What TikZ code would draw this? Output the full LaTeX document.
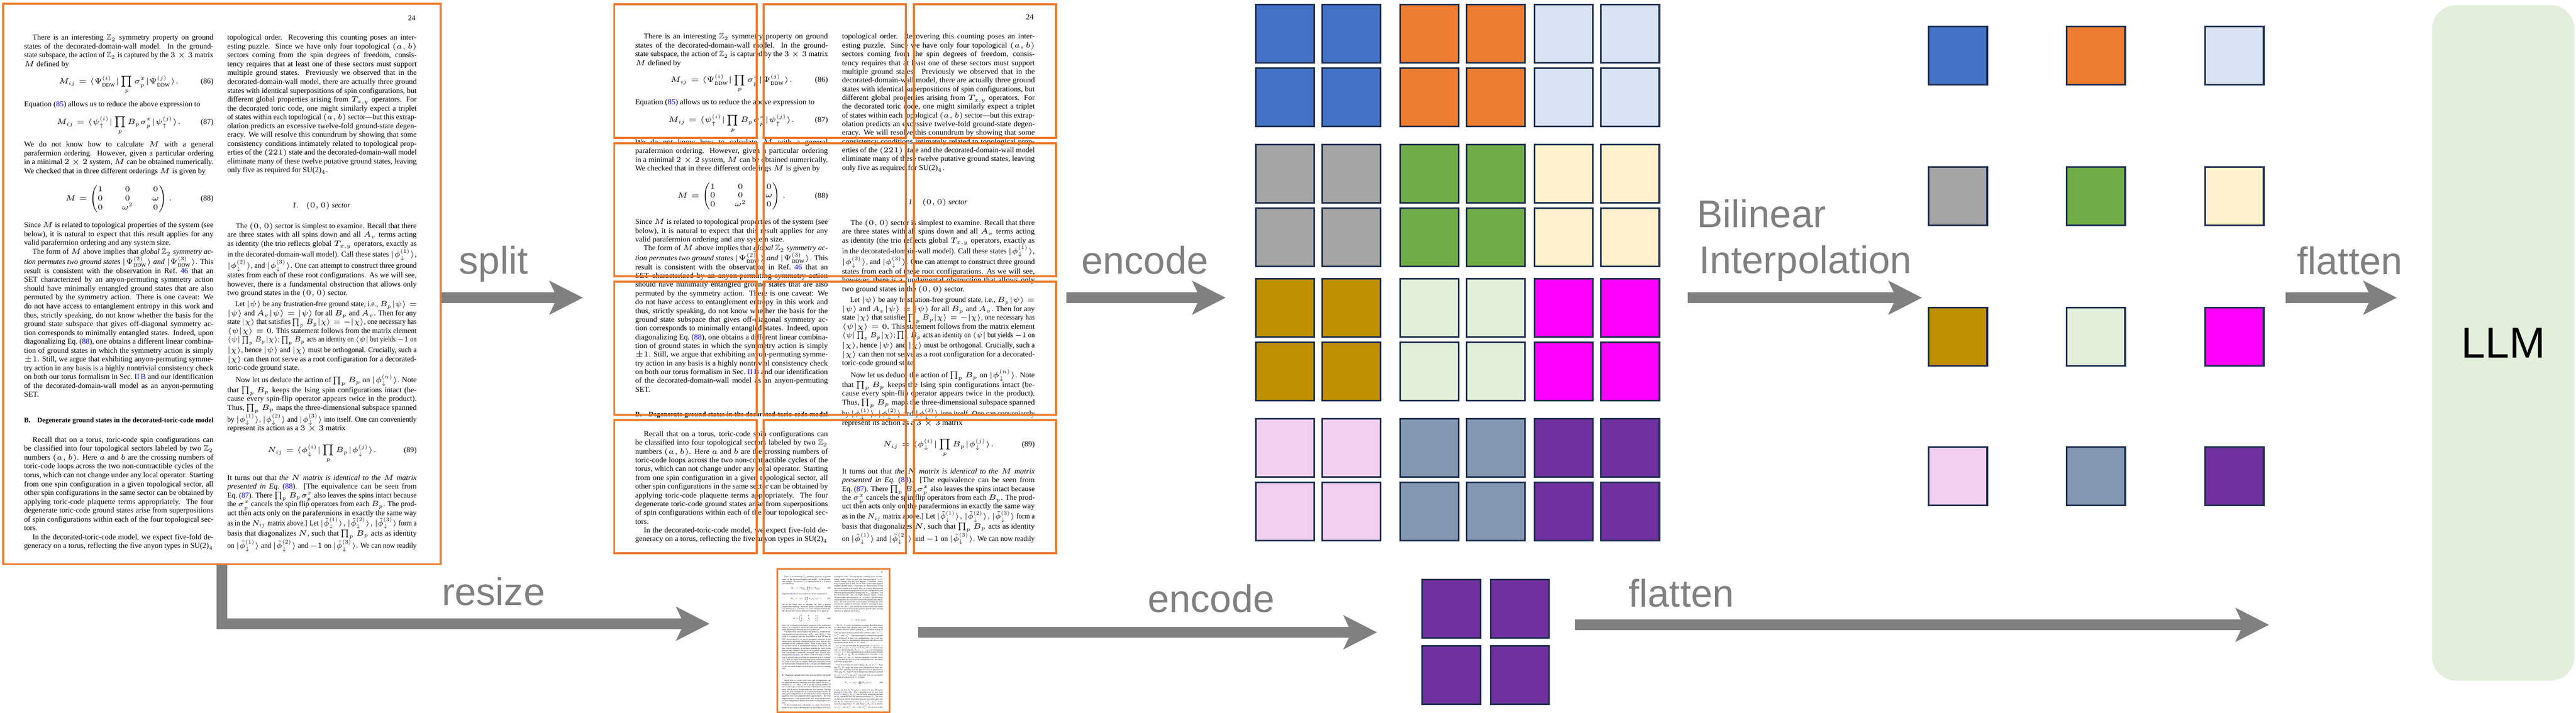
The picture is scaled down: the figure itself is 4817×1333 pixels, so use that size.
\RequirePackage{fix-cm}
\documentclass[tikz,border=0pt]{standalone}
\usepackage{amsmath,amssymb}
\usepackage{fontspec}
\setmainfont{Liberation Serif}
\setsansfont{Liberation Sans}
\usepackage{tikz}
\usetikzlibrary{arrows.meta}

\definecolor{pageorange}{RGB}{237,125,49}
\definecolor{arrowgray}{RGB}{128,128,128}
\definecolor{tileedge}{RGB}{31,48,80}
\definecolor{tokblue}{RGB}{68,114,196}
\definecolor{tokorange}{RGB}{237,125,49}
\definecolor{toklightblue}{RGB}{218,227,243}
\definecolor{tokgray}{RGB}{165,165,165}
\definecolor{tokgreen}{RGB}{112,173,71}
\definecolor{tokyellow}{RGB}{255,242,204}
\definecolor{tokgold}{RGB}{191,144,0}
\definecolor{toklightgreen}{RGB}{226,240,217}
\definecolor{tokmagenta}{RGB}{255,0,255}
\definecolor{tokpink}{RGB}{242,207,238}
\definecolor{tokslate}{RGB}{132,151,176}
\definecolor{tokpurple}{RGB}{112,48,160}
\definecolor{llmgreen}{RGB}{226,239,218}

\newcommand{\refnum}[1]{\textcolor{blue}{#1}}
\newcommand{\parind}{\hspace*{4.5pt}}
\newcommand{\pagefont}{\fontsize{4.05pt}{4.71pt}\selectfont\spaceskip=1.01pt plus 1.2pt minus 0.45pt\relax}
\newsavebox{\pglinebox}
\newcommand{\fitline}[1]{%
    \sbox{\pglinebox}{#1}%
    \ifdim\wd\pglinebox>3.538cm
        \resizebox{3.538cm}{\height}{\usebox{\pglinebox}}%
    \else
        \makebox[3.538cm][s]{#1}%
    \fi}

\newcommand{\pageblock}[4]{%
    \foreach \txt [count=\k from 0] in {#4}
        \node [pageline] (#1-\k) at (#2,#3+16.55*\k) {\fitline{\txt}};
}

\newcommand{\drawpage}[1]{%
    \node [pageline, anchor=base east] (#1-num) at (773.8,33) {24};

    \pageblock{#1-la}{40.4}{69.7}{%
        {\parind There is an interesting $\mathbb{Z}_2$ symmetry property on ground},
        {states of the decorated-domain-wall model. In the ground-},
        {state subspace, the action of $\mathbb{Z}_2$ is captured by the $3\times 3$ matrix},
        {$M$ defined by\hfill}}
    \node [pageline] (#1-eq86) at (40.4,151.3) {\rlap{\makebox[3.538cm]{$\displaystyle M_{ij}=\langle\Psi^{(i)}_{\mathrm{DDW}}|\prod_p\sigma^x_p|\Psi^{(j)}_{\mathrm{DDW}}\rangle.$}}\makebox[3.538cm][r]{(86)}};
    \pageblock{#1-lb}{40.4}{194}{%
        {Equation (\refnum{85}) allows us to reduce the above expression to\hfill}}
    \node [pageline] (#1-eq87) at (40.4,227.3) {\rlap{\makebox[3.538cm]{$\displaystyle M_{ij}=\langle\psi^{(i)}_{\uparrow}|\prod_p B_p\sigma^x_p|\psi^{(j)}_{\uparrow}\rangle.$}}\makebox[3.538cm][r]{(87)}};
    \pageblock{#1-lc}{40.4}{269.7}{%
        {We do not know how to calculate $M$ with a general},
        {parafermion ordering. However, given a particular ordering},
        {in a minimal $2\times 2$ system, $M$ can be obtained numerically.},
        {We checked that in three different orderings $M$ is given by\hfill}}
    \node [pageline] (#1-eq88) at (40.4,370.7) {\rlap{\makebox[3.538cm]{$\displaystyle M=\begin{pmatrix}1&0&0\\0&0&\omega\\0&\omega^2&0\end{pmatrix}.$}}\makebox[3.538cm][r]{(88)}};
    \pageblock{#1-ld}{40.4}{420.7}{%
        {Since $M$ is related to topological properties of the system (see},
        {below), it is natural to expect that this result applies for any},
        {valid parafermion ordering and any system size.\hfill},
        {\parind The form of $M$ above implies that \emph{global $\mathbb{Z}_2$ symmetry ac-}}}
    \pageblock{#1-le}{40.4}{489.7}{%
        {\emph{tion permutes two ground states $|\Psi^{(2)}_{\mathrm{DDW}}\rangle$ and $|\Psi^{(3)}_{\mathrm{DDW}}\rangle$}. This},
        {result is consistent with the observation in Ref.~\refnum{46} that an},
        {SET characterized by an anyon-permuting symmetry action},
        {should have minimally entangled ground states that are also},
        {permuted by the symmetry action. There is one caveat: We},
        {do not have access to entanglement entropy in this work and},
        {thus, strictly speaking, do not know whether the basis for the},
        {ground state subspace that gives off-diagonal symmetry ac-},
        {tion corresponds to minimally entangled states. Indeed, upon},
        {diagonalizing Eq.~(\refnum{88}), one obtains a different linear combina-},
        {tion of ground states in which the symmetry action is simply},
        {$\pm1$. Still, we argue that exhibiting anyon-permuting symme-},
        {try action in any basis is a highly nontrivial consistency check},
        {on both our torus formalism in Sec.~\refnum{II\,B} and our identification},
        {of the decorated-domain-wall model as an anyon-permuting},
        {SET.\hfill}}
    \node [pageline] (#1-headB) at (40.4,785.3) {\fitline{\bfseries\fontsize{3.7pt}{4.71pt}\selectfont B.\quad Degenerate ground states in the decorated-toric-code model}};
    \pageblock{#1-lf}{40.4}{822.3}{%
        {\parind Recall that on a torus, toric-code spin configurations can},
        {be classified into four topological sectors labeled by two $\mathbb{Z}_2$},
        {numbers $(a,b)$. Here $a$ and $b$ are the crossing numbers of},
        {toric-code loops across the two non-contractible cycles of the},
        {torus, which can not change under any local operator. Starting},
        {from one spin configuration in a given topological sector, all},
        {other spin configurations in the same sector can be obtained by},
        {applying toric-code plaquette terms appropriately. The four},
        {degenerate toric-code ground states arise from superpositions},
        {of spin configurations within each of the four topological sec-},
        {tors.\hfill},
        {\parind In the decorated-toric-code model, we expect five-fold de-},
        {generacy on a torus, reflecting the five anyon types in SU(2)$_4$}}

    \pageblock{#1-ra}{420.4}{69.7}{%
        {topological order. Recovering this counting poses an inter-},
        {esting puzzle. Since we have only four topological $(a,b)$},
        {sectors coming from the spin degrees of freedom, consis-},
        {tency requires that at least one of these sectors must support},
        {multiple ground states. Previously we observed that in the},
        {decorated-domain-wall model, there are actually three ground},
        {states with identical superpositions of spin configurations, but},
        {different global properties arising from $T_{x,y}$ operators. For},
        {the decorated toric code, one might similarly expect a triplet},
        {of states within each topological $(a,b)$ sector---but this extrap-},
        {olation predicts an excessive twelve-fold ground-state degen-},
        {eracy. We will resolve this conundrum by showing that some},
        {consistency conditions intimately related to topological prop-},
        {erties of the $(221)$ state and the decorated-domain-wall model},
        {eliminate many of these twelve putative ground states, leaving},
        {only five as required for SU(2)$_4$.\hfill}}
    \node [pageline, anchor=base] (#1-head1) at (597.3,383) {\itshape 1.\quad $(0,0)$ sector};
    \pageblock{#1-rb}{420.4}{422.3}{%
        {\parind The $(0,0)$ sector is simplest to examine. Recall that there},
        {are three states with all spins down and all $A_v$ terms acting},
        {as identity (the trio reflects global $T_{x,y}$ operators, exactly as}}
    \pageblock{#1-rc}{420.4}{475.7}{%
        {in the decorated-domain-wall model). Call these states $|\phi^{(1)}_{\downarrow}\rangle$,}}
    \pageblock{#1-rd}{420.4}{496.3}{%
        {$|\phi^{(2)}_{\downarrow}\rangle$, and $|\phi^{(3)}_{\downarrow}\rangle$. One can attempt to construct three ground}}
    \pageblock{#1-re}{420.4}{514.7}{%
        {states from each of these root configurations. As we will see,},
        {however, there is a fundamental obstruction that allows only},
        {two ground states in the $(0,0)$ sector.\hfill}}
    \pageblock{#1-rf}{420.4}{568.7}{%
        {\parind Let $|\psi\rangle$ be any frustration-free ground state, i.e., $B_p|\psi\rangle=$},
        {$|\psi\rangle$ and $A_v|\psi\rangle=|\psi\rangle$ for all $B_p$ and $A_v$. Then for any},
        {state $|\chi\rangle$ that satisfies $\prod_p B_p|\chi\rangle=-|\chi\rangle$, one necessary has},
        {$\langle\psi|\chi\rangle=0$. This statement follows from the matrix element},
        {$\langle\psi|\prod_p B_p|\chi\rangle$; $\prod_p B_p$ acts an identity on $\langle\psi|$ but yields $-1$ on}}
    \pageblock{#1-rg}{420.4}{654.7}{%
        {$|\chi\rangle$, hence $|\psi\rangle$ and $|\chi\rangle$ must be orthogonal. Crucially, such a},
        {$|\chi\rangle$ can then not serve as a root configuration for a decorated-},
        {toric-code ground state.\hfill}}
    \pageblock{#1-rh}{420.4}{710.7}{%
        {\parind Now let us deduce the action of $\prod_p B_p$ on $|\phi^{(n)}_{\downarrow}\rangle$. Note}}
    \pageblock{#1-ri}{420.4}{729}{%
        {that $\prod_p B_p$ keeps the Ising spin configurations intact (be-},
        {cause every spin-flip operator appears twice in the product).},
        {Thus, $\prod_p B_p$ maps the three-dimensional subspace spanned}}
    \pageblock{#1-rj}{420.4}{784}{%
        {by $|\phi^{(1)}_{\downarrow}\rangle$, $|\phi^{(2)}_{\downarrow}\rangle$ and $|\phi^{(3)}_{\downarrow}\rangle$ into itself. One can conveniently},
        {represent its action as a $3\times 3$ matrix\hfill}}
    \node [pageline] (#1-eq89) at (420.4,841.3) {\rlap{\makebox[3.538cm]{$\displaystyle N_{ij}=\langle\phi^{(i)}_{\downarrow}|\prod_p B_p|\phi^{(j)}_{\downarrow}\rangle.$}}\makebox[3.538cm][r]{(89)}};
    \pageblock{#1-rk}{420.4}{893}{%
        {It turns out that \emph{the $N$ matrix is identical to the $M$ matrix}},
        {\emph{presented in Eq.}~(\refnum{88}). [The equivalence can be seen from},
        {Eq.~(\refnum{87}). There $\prod_p B_p\sigma^x_p$ also leaves the spins intact because},
        {the $\sigma^x_p$ cancels the spin flip operators from each $B_p$. The prod-},
        {uct then acts only on the parafermions in exactly the same way}}
    \pageblock{#1-rl}{420.4}{978}{%
        {as in the $N_{ij}$ matrix above.] Let $|\tilde\phi^{(1)}_{\downarrow}\rangle, |\tilde\phi^{(2)}_{\downarrow}\rangle, |\tilde\phi^{(3)}_{\downarrow}\rangle$ form a}}
    \pageblock{#1-rm}{420.4}{997}{%
        {basis that diagonalizes $N$, such that $\prod_p B_p$ acts as identity}}
    \pageblock{#1-rn}{420.4}{1020.3}{%
        {on $|\tilde\phi^{(1)}_{\downarrow}\rangle$ and $|\tilde\phi^{(2)}_{\downarrow}\rangle$ and $-1$ on $|\tilde\phi^{(3)}_{\downarrow}\rangle$. We can now readily}}
}

\begin{document}
\begin{tikzpicture}[x=0.01cm, y=-0.01cm,
        pagebox/.style={rectangle, draw=pageorange, line width=1pt, inner sep=0pt},
        pageline/.style={anchor=base west, inner sep=0pt, font=\pagefont},
        splittile/.style={
            rectangle, draw=pageorange, line width=1.1pt, inner sep=0pt,
            minimum width=2.66cm, minimum height=2.49cm
        },
        tokentile/.style={
            rectangle, draw=tileedge, line width=1.1pt, inner sep=0pt,
            minimum width=1.09cm, minimum height=1.09cm
        },
        bigarrow/.style={draw=arrowgray, line width=0.2cm, -{Stealth[length=0.62cm, width=0.62cm, inset=0.14cm]}},
        steplabel/.style={text=arrowgray, inner sep=0pt, font=\sffamily\fontsize{20.5}{24.5}\selectfont},
        llmbox/.style={
            rectangle, rounded corners=0.45cm, fill=llmgreen,
            minimum width=2.66cm, minimum height=12.63cm,
            font=\sffamily\fontsize{23}{27}\selectfont
        },
    ]
    \useasboundingbox (0,0) rectangle (4817,1333);

    \node [pagebox, minimum width=8.18cm, minimum height=10.48cm, anchor=north west] (page) at (4,5) {};
    \begin{scope}[shift={(4,5)}]
        \drawpage{p}
    \end{scope}

    \begin{scope}[shift={(1145.9,4.1)}, xscale=1.018, yscale=0.988, transform shape]
        \drawpage{s}
    \end{scope}
    \foreach \y [count=\r] in {133,392.5,651.5,910.5}
        \foreach \x [count=\c] in {1281.5,1561,1842}
            \node [splittile] (split-\r-\c) at (\x,\y) {};

    \node [pagebox, line width=0.8pt, minimum width=2.1cm, minimum height=2.68cm, anchor=north west] (small) at (1452,1063) {};
    \begin{scope}[shift={(1452,1063)}, scale=0.2567, transform shape]
        \drawpage{m}
    \end{scope}

    \foreach \y/\ca/\cb/\cc [count=\r] in {63/tokblue/tokorange/toklightblue, 325/tokgray/tokgreen/tokyellow, 576/tokgold/toklightgreen/tokmagenta, 838/tokpink/tokslate/tokpurple}
        \foreach \x/\col [count=\c] in {2403/\ca, 2673/\cb, 2924/\cc}
            \foreach \dx/\dy/\t in {0/0/a, 124/0/b, 0/119/c, 124/119/d}
                \node [tokentile, fill=\col] (tok-\r-\c-\t) at (\x+\dx,\y+\dy) {};

    \foreach \y/\ca/\cb/\cc [count=\r] in {104/tokblue/tokorange/toklightblue, 367/tokgray/tokgreen/tokyellow, 630/tokgold/toklightgreen/tokmagenta, 891/tokpink/tokslate/tokpurple}
        \foreach \x/\col [count=\c] in {3661/\ca, 3919/\cb, 4178/\cc}
            \node [tokentile, fill=\col] (pool-\r-\c) at (\x,\y) {};

    \foreach \x/\y/\t in {2714/1139/a, 2842/1139/b, 2714/1263/c, 2842/1263/d}
        \node [tokentile, fill=tokpurple] (glob-\t) at (\x,\y) {};

    \node [llmbox] (llm) at (4681,641.5) {LLM};

    \coordinate (splitEnd) at (1090,557);
    \draw [bigarrow] (page.east |- splitEnd) -- (splitEnd);
    \node [steplabel, anchor=base] (splitlabel) at (923,512) {split};

    \coordinate (resizeEnd) at (1327,1167);
    \draw [bigarrow] (page.south) |- (resizeEnd);
    \node [steplabel, anchor=base] (resizelabel) at (923,1132) {resize};

    \coordinate (encodeStart) at (1994,557);
    \coordinate (encodeEnd) at (2292,557);
    \draw [bigarrow] (encodeStart) -- (encodeEnd);
    \node [steplabel, anchor=base] (encodelabel) at (2141,512) {encode};

    \coordinate (globStart) at (1717,1183);
    \coordinate (globEnd) at (2575,1183);
    \draw [bigarrow] (globStart) -- (globEnd);
    \node [steplabel, anchor=base] (globlabel) at (2265,1145) {encode};

    \coordinate (poolStart) at (3156,557);
    \coordinate (poolEnd) at (3594,557);
    \draw [bigarrow] (poolStart) -- (poolEnd);
    \node [steplabel, anchor=base west] (bilinearlabel) at (3173,425) {Bilinear};
    \node [steplabel, anchor=base west] (interplabel) at (3177,511) {Interpolation};

    \coordinate (flatStart) at (4274,557);
    \coordinate (flatEnd) at (4482,557);
    \draw [bigarrow] (flatStart) -- (flatEnd);
    \node [steplabel, anchor=base] (flatlabel) at (4394,513) {flatten};

    \coordinate (globFlatStart) at (2945,1169);
    \coordinate (globFlatEnd) at (4243,1169);
    \draw [bigarrow] (globFlatStart) -- (globFlatEnd);
    \node [steplabel, anchor=base] (globflatlabel) at (3144,1135) {flatten};

\end{tikzpicture}
\end{document}
